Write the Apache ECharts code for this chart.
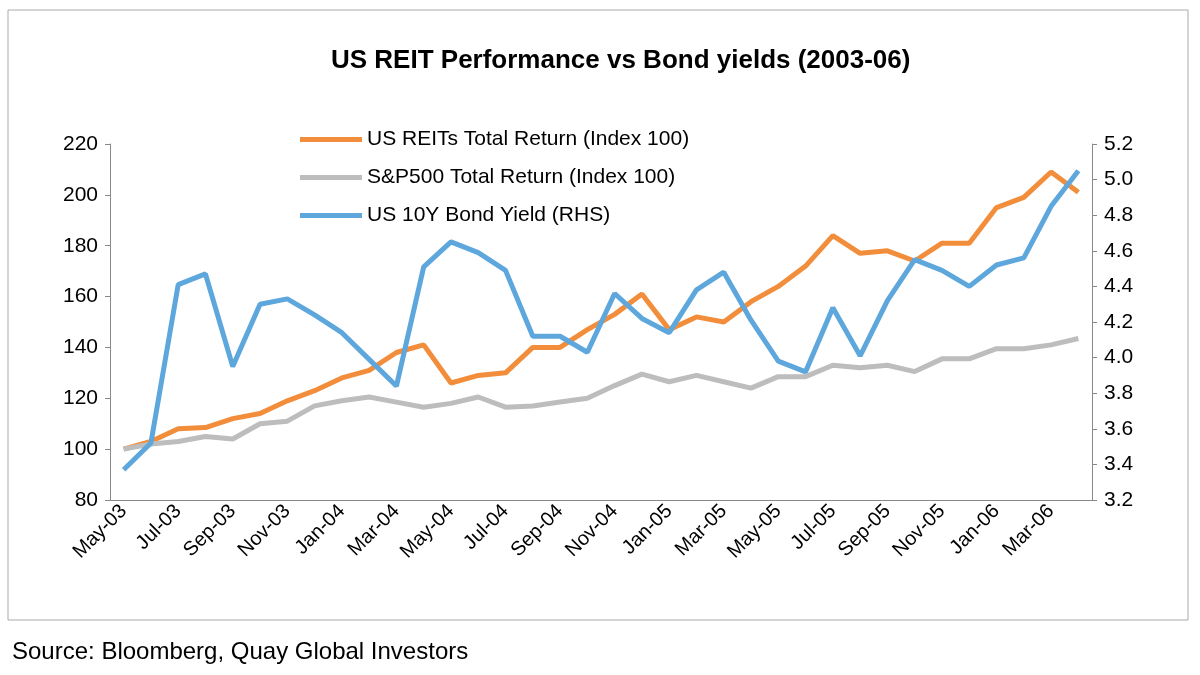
<!DOCTYPE html>
<html><head><meta charset="utf-8">
<script src="https://cdn.jsdelivr.net/npm/echarts@6/dist/echarts.min.js"></script>
<style>html,body{margin:0;padding:0;background:#fff}#c{width:1200px;height:675px}</style>
</head><body><div id="c"></div>
<script>
// monthly, May-03 .. Apr-06
var months = ['May-03','Jun-03','Jul-03','Aug-03','Sep-03','Oct-03','Nov-03','Dec-03',
    'Jan-04','Feb-04','Mar-04','Apr-04','May-04','Jun-04','Jul-04','Aug-04','Sep-04','Oct-04','Nov-04','Dec-04',
    'Jan-05','Feb-05','Mar-05','Apr-05','May-05','Jun-05','Jul-05','Aug-05','Sep-05','Oct-05','Nov-05','Dec-05',
    'Jan-06','Feb-06','Mar-06','Apr-06'];
var reits = [100,103,108,108.5,112,114,119,123,128,131,138,141,126,129,130,140,140,147,153,161,
    147,152,150,158,164,172,184,177,178,174,181,181,195,199,209,201];
var sp500 = [100,102,103,105,104,110,111,117,119,120.5,118.5,116.5,118,120.5,116.5,117,118.5,120,125,129.5,
    126.5,129,126.5,124,128.5,128.5,133,132,133,130.5,135.5,135.5,139.5,139.5,141,143.5];
var bondYield = [3.37,3.52,4.41,4.47,3.95,4.30,4.33,4.24,4.14,3.99,3.84,4.51,4.65,4.59,4.49,4.12,4.12,4.03,4.36,4.22,
    4.14,4.38,4.48,4.21,3.98,3.92,4.28,4.01,4.32,4.55,4.49,4.40,4.52,4.56,4.85,5.05];

var chart = echarts.init(document.getElementById('c'));
var font = 'Liberation Sans, Arial, sans-serif';
var axisLine = {show: true, lineStyle: {color: '#888', width: 1}};

chart.setOption({
    animation: false,
    textStyle: {fontFamily: font},
    color: ['#f28e3b', '#bdbdbd', '#5ea7dd'],
    graphic: [
        {type: 'rect', shape: {x: 8, y: 10, width: 1180, height: 610}, style: {fill: 'none', stroke: '#aaa', lineWidth: 1}},
        {type: 'text', left: 12, top: 640, style: {text: 'Source: Bloomberg, Quay Global Investors', font: '24px ' + font, fill: '#000'}}
    ],
    title: {
        text: 'US REIT Performance vs Bond yields (2003-06)',
        left: 326, top: 43,
        textStyle: {fontSize: 26, fontWeight: 'bold', color: '#000', fontFamily: font}
    },
    legend: {
        orient: 'vertical', left: 295, top: 124, itemGap: 17,
        itemWidth: 62, itemHeight: 5, icon: 'rect',
        textStyle: {fontSize: 21, color: '#000'}
    },
    grid: {left: 110, right: 108, top: 144, bottom: 175},
    xAxis: {
        type: 'category', data: months, boundaryGap: true,
        axisLine: axisLine,
        axisTick: {show: false},
        axisLabel: {interval: 1, rotate: 45, fontSize: 20, color: '#000', margin: 8}
    },
    yAxis: [
        {type: 'value', min: 80, max: 220, interval: 20, axisLine: axisLine,
            axisTick: {show: true, lineStyle: {color: '#888'}}, splitLine: {show: false},
            axisLabel: {fontSize: 21, color: '#000', margin: 12}},
        {type: 'value', min: 3.2, max: 5.2, interval: 0.2, axisLine: axisLine,
            axisTick: {show: true, lineStyle: {color: '#888'}}, splitLine: {show: false},
            axisLabel: {fontSize: 21, color: '#000', margin: 12, formatter: function (v) { return v.toFixed(1); }}}
    ],
    series: [
        {name: 'US REITs Total Return (Index 100)', type: 'line', data: reits, symbol: 'none', lineStyle: {width: 5}},
        {name: 'S&P500 Total Return (Index 100)', type: 'line', data: sp500, symbol: 'none', lineStyle: {width: 5}},
        {name: 'US 10Y Bond Yield (RHS)', type: 'line', yAxisIndex: 1, data: bondYield, symbol: 'none', lineStyle: {width: 5}}
    ]
});
</script>
</body></html>
